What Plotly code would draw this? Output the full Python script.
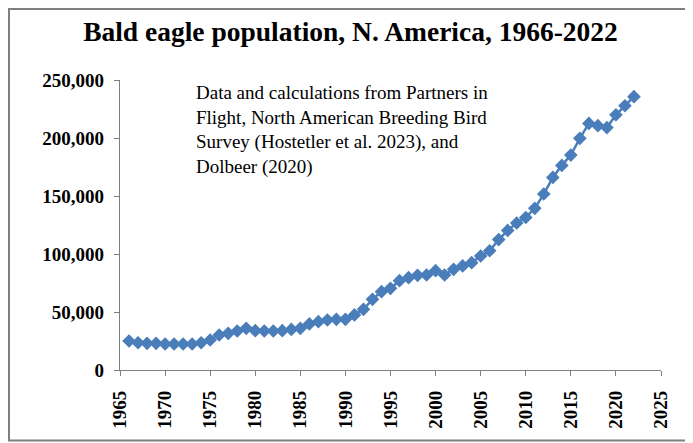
import plotly.graph_objects as go

years = list(range(1966, 2023))
population = [
    25000, 23500, 23000, 23000, 22400, 22400, 22400, 22400, 23500, 25900,
    30200, 31600, 33600, 35900, 33900, 33600, 33600, 33900, 35000, 35900,
    39700, 41700, 43100, 43700, 43700, 47500, 52300, 60900, 67500, 70400,
    77000, 79600, 81600, 81900, 85600, 81900, 86800, 89700, 92500, 98300,
    102800, 112400, 120300, 126700, 131500, 139400, 151700, 166000, 176400, 185300,
    199700, 212600, 210600, 209000, 220000, 227800, 235600,
]
x_ticks = list(range(1965, 2030, 5))
y_ticks = [0, 50000, 100000, 150000, 200000, 250000]
y_tick_labels = ["0", "50,000", "100,000", "150,000", "200,000", "250,000"]

title_text = "Bald eagle population, N. America, 1966-2022"
note_text = ("Data and calculations from Partners in<br>Flight, North American Breeding Bird<br>"
             "Survey (Hostetler et al. 2023), and<br>Dolbeer (2020)")

serif = "Liberation Serif, Times New Roman, serif"

fig = go.Figure()
fig.add_trace(go.Scatter(
    x=years, y=population, mode="lines+markers",
    line=dict(color="#4A7EBB", width=2.5),
    marker=dict(symbol="diamond", size=10.5, color="#4A7EBB"),
    showlegend=False, hoverinfo="x+y",
))

# page body has an 8px margin; the figure is placed at (8, 8)
OFF = 8
W, H = 693 - OFF, 443 - OFF
L, T = 120 - OFF, 80 - OFF
pw, ph = 541, 290
R, B = W - L - pw, H - T - ph

def fx(xf):
    return (xf - L) / pw

def fy(yf):
    return 1 - (yf - T) / ph

fig.update_layout(
    width=W, height=H,
    margin=dict(l=L, r=R, t=T, b=B),
    paper_bgcolor="white", plot_bgcolor="white",
    font=dict(family=serif, color="black"),
    title=dict(text="<b>" + title_text + "</b>", x=0.5, xanchor="center",
               y=1 - (31 - OFF) / H, yanchor="middle", font=dict(size=27.5, family=serif)),
    xaxis=dict(range=[1965, 2025], tickmode="array", tickvals=x_ticks,
               ticktext=["<b>%d</b>" % v for v in x_ticks], tickangle=-90,
               showgrid=False, zeroline=False, showline=True, linecolor="#7f7f7f",
               linewidth=1.2, ticks="outside", ticklen=5, tickcolor="#7f7f7f",
               tickwidth=1.2, ticklabelstandoff=7,
               tickfont=dict(size=19, family=serif)),
    yaxis=dict(range=[0, 250000], tickmode="array", tickvals=y_ticks,
               ticktext=["<b>%s</b>" % t for t in y_tick_labels],
               showgrid=False, zeroline=False, showline=True, linecolor="#7f7f7f",
               linewidth=1.2, ticks="outside", ticklen=5, tickcolor="#7f7f7f",
               tickwidth=1.2, ticklabelstandoff=6,
               tickfont=dict(size=19, family=serif)),
    annotations=[dict(text=note_text, xref="paper", yref="paper",
                      x=fx(194 - OFF), y=fy(80 - OFF),
                      xanchor="left", yanchor="top", align="left", showarrow=False,
                      font=dict(size=19, family=serif, color="black"))],
    shapes=[dict(type="rect", xref="paper", yref="paper", layer="above",
                 x0=fx(1), x1=fx(W - 2.5),
                 y0=fy(H - 2.5), y1=fy(1),
                 line=dict(color="#7f7f7f", width=2), fillcolor="rgba(0,0,0,0)")],
)

fig.write_html("out.html")
